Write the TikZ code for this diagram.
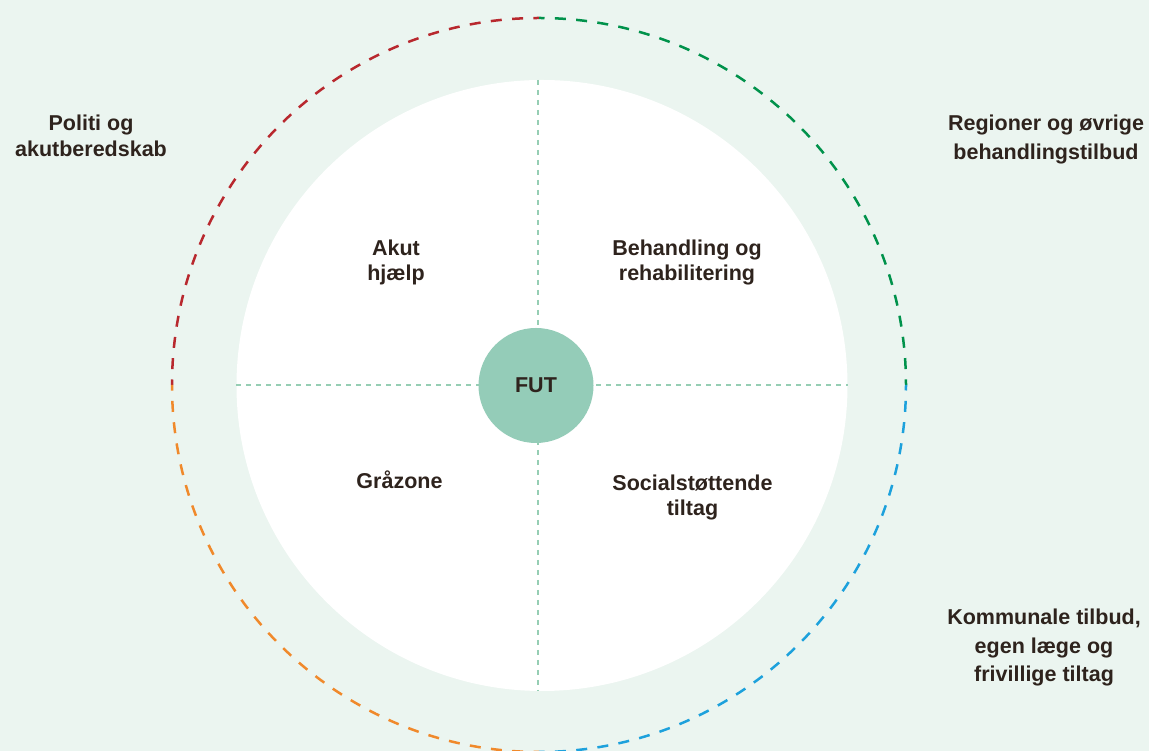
\documentclass[tikz,border=0pt]{standalone}
\usepackage{fontspec}
\setmainfont{Liberation Sans}
\definecolor{bgc}{HTML}{EBF5F0}
\definecolor{txt}{HTML}{2E231D}
\definecolor{futc}{HTML}{94CCB8}
\definecolor{dotc}{HTML}{96CEB4}
\definecolor{cRed}{HTML}{B8282E}
\definecolor{cGreen}{HTML}{00924B}
\definecolor{cBlue}{HTML}{1DA1DC}
\definecolor{cOrange}{HTML}{F0892B}
\begin{document}
\begin{tikzpicture}[x=1pt,y=1pt,
  lbl/.style={text=txt, font=\bfseries\fontsize{21.5}{26}\selectfont, align=center, inner sep=0pt},
  outlbl/.style={lbl, font=\bfseries\fontsize{21.5}{28.5}\selectfont},
  inlbl/.style={lbl, font=\bfseries\fontsize{21.5}{25}\selectfont},
  ring/.style={line width=2.5pt, dash pattern=on 11pt off 10.35pt, dash phase=5.5pt},
  dotline/.style={draw=dotc, line width=2pt, dash pattern=on 5pt off 5pt}
]
\useasboundingbox (0,0) rectangle (1149,751);
\fill[bgc] (0,0) rectangle (1149,751);
% white circle
\node[circle, fill=white, minimum size=611pt, inner sep=0pt] (white) at (542,365.5) {};
% dotted cross
\draw[dotline] (white.west) -- (white.east);
\draw[dotline] ([xshift=-4pt]white.north) -- ([xshift=-4pt]white.south);
% FUT
\node[circle, fill=futc, minimum size=115pt, lbl] (fut) at (536,365.5) {FUT};
% quadrant labels
\node[inlbl, anchor=north] (akut) at (396,511) {Akut\\hjælp};
\node[inlbl, anchor=north] (behand) at (687,511) {Behandling og\\rehabilitering};
\node[inlbl, anchor=base] (graa) at (399.5,262) {Gråzone};
\node[inlbl, anchor=north] (social) at (692.5,276) {Socialstøttende\\tiltag};
% outer labels
\node[outlbl, anchor=north, font=\bfseries\fontsize{21.5}{26}\selectfont] (politi) at (91,636) {Politi og\\akutberedskab};
\node[outlbl, anchor=north] (region) at (1046,636) {Regioner og øvrige\\behandlingstilbud};
\node[outlbl, anchor=north] (kommune) at (1044,142) {Kommunale tilbud,\\egen læge og\\frivillige tiltag};
% outer dashed ring
\coordinate (oc) at (539,366);
\draw[ring, draw=cRed] ([shift={(180:367)}]oc) arc[start angle=180, end angle=90, radius=367];
\draw[ring, draw=cGreen] ([shift={(90:367)}]oc) arc[start angle=90, end angle=0, radius=367];
\draw[ring, draw=cBlue] ([shift={(0:367)}]oc) arc[start angle=0, end angle=-90, radius=367];
\draw[ring, draw=cOrange] ([shift={(-90:367)}]oc) arc[start angle=-90, end angle=-180, radius=367];
\end{tikzpicture}
\end{document}
